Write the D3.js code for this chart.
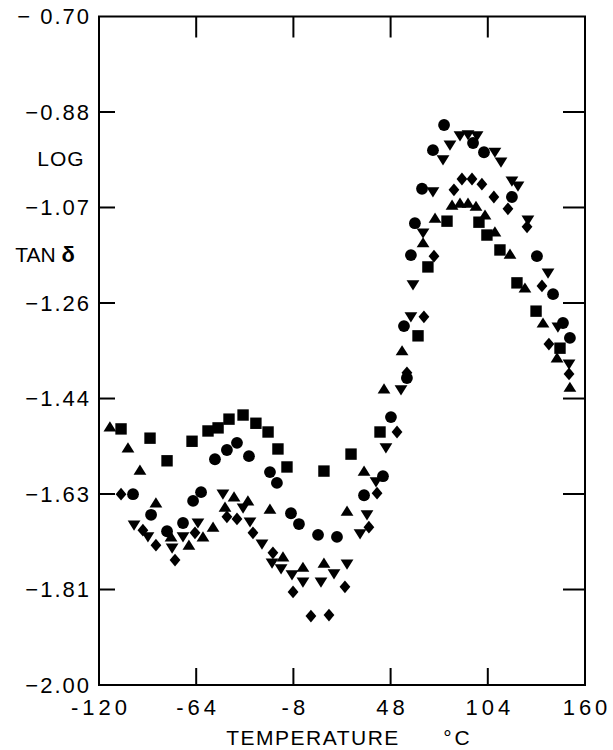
<!DOCTYPE html>
<html>
<head>
<meta charset="utf-8">
<script src="https://cdn.jsdelivr.net/npm/d3@7/dist/d3.min.js"></script>
<style>
  html, body { margin: 0; padding: 0; background: #fff; }
  svg { display: block; }
  text { font-family: "Liberation Sans", Arial, sans-serif; fill: #000; }
</style>
</head>
<body>
<svg id="chart" width="613" height="750"></svg>
<script>
// Axis ticks and labels
const xTickValues = [-120, -64, -8, 48, 104, 160];
const xTickLabels = ["-120", "-64", "-8", "48", "104", "160"];
const yTickValues = [-2.0, -1.8143, -1.6286, -1.4429, -1.2571, -1.0714, -0.8857, -0.70];
const yTickLabels = ["−2.00", "−1.81", "−1.63", "−1.44", "−1.26", "−1.07", "−0.88", "− 0.70"];

// Series: [temperature °C, log tan δ]
const squares = [
  [-107.3, -1.502], [-90.6, -1.520], [-80.8, -1.564], [-66.4, -1.526], [-57.2, -1.506],
  [-51.4, -1.500], [-45.1, -1.483], [-37.0, -1.475], [-29.6, -1.491], [-22.6, -1.508],
  [-16.9, -1.541], [-11.7, -1.576], [9.6, -1.584], [25.2, -1.551], [41.9, -1.508],
  [63.8, -1.321], [69.5, -1.187], [80.5, -1.098], [98.9, -1.100], [103.5, -1.125],
  [111.0, -1.154], [120.8, -1.218], [131.8, -1.273], [145.6, -1.345]
];
const circles = [
  [-100.4, -1.629], [-90.0, -1.669], [-80.8, -1.701], [-71.6, -1.685], [-65.8, -1.642],
  [-61.2, -1.625], [-53.2, -1.561], [-46.3, -1.543], [-40.5, -1.529], [-33.6, -1.555],
  [-21.5, -1.586], [-17.5, -1.607], [-9.4, -1.666], [-4.8, -1.687], [6.2, -1.708],
  [17.1, -1.712], [32.7, -1.631], [43.6, -1.594], [48.2, -1.479], [57.4, -1.403],
  [55.7, -1.302], [59.7, -1.164], [62.0, -1.102], [66.1, -1.035], [72.4, -0.960],
  [78.8, -0.911], [95.5, -0.946], [101.8, -0.964], [117.9, -1.051], [132.3, -1.166],
  [141.6, -1.240], [147.3, -1.296], [151.3, -1.325]
];
const trianglesUp = [
  [-113.7, -1.498], [-103.3, -1.539], [-96.4, -1.582], [-87.2, -1.646], [-78.5, -1.712],
  [-68.2, -1.728], [-60.1, -1.712], [-54.3, -1.693], [-47.4, -1.654], [-42.2, -1.634],
  [-34.2, -1.642], [-21.5, -1.658], [-14.0, -1.751], [-2.5, -1.771], [9.6, -1.763],
  [22.9, -1.662], [32.7, -1.584], [44.2, -1.424], [54.6, -1.350], [66.7, -1.140],
  [73.6, -1.092], [83.4, -1.067], [88.0, -1.063], [92.6, -1.063], [97.2, -1.069],
  [102.4, -1.086], [108.1, -1.119], [116.8, -1.162], [125.4, -1.228], [135.8, -1.296],
  [143.9, -1.364], [151.3, -1.421]
];
const trianglesDown = [
  [-99.8, -1.689], [-91.8, -1.712], [-77.9, -1.734], [-71.6, -1.712], [-63.0, -1.685],
  [-48.6, -1.629], [-37.0, -1.656], [-33.0, -1.683], [-26.1, -1.726], [-20.3, -1.763],
  [-15.1, -1.774], [-8.8, -1.786], [-2.5, -1.800], [7.9, -1.800], [15.4, -1.784],
  [22.9, -1.765], [30.4, -1.706], [34.4, -1.669], [39.6, -1.605], [45.3, -1.539],
  [54.0, -1.426], [59.7, -1.284], [60.9, -1.222], [66.7, -1.121], [72.4, -1.041],
  [78.2, -0.979], [82.2, -0.950], [88.0, -0.932], [92.6, -0.930], [97.8, -0.932],
  [108.1, -0.964], [111.6, -0.983], [117.9, -1.020], [121.4, -1.030], [127.1, -1.096],
  [138.7, -1.199], [144.4, -1.304], [150.8, -1.376]
];
const diamonds = [
  [-107.3, -1.629], [-94.7, -1.699], [-87.2, -1.728], [-76.2, -1.757], [-64.7, -1.704],
  [-46.3, -1.673], [-40.5, -1.677], [-31.3, -1.704], [-19.8, -1.743], [-8.2, -1.819],
  [2.1, -1.866], [12.5, -1.864], [21.7, -1.809], [35.5, -1.693], [40.2, -1.627],
  [51.7, -1.508], [57.4, -1.393], [67.2, -1.284], [73.0, -1.166], [84.5, -1.037],
  [89.1, -1.016], [94.9, -1.016], [100.6, -1.026], [107.5, -1.051], [115.6, -1.074],
  [126.6, -1.109], [135.2, -1.224], [139.2, -1.337], [150.8, -1.395]
];

const svg = d3.select("#chart");
const plotLeft = 99, plotRight = 585, plotTop = 16.5, plotBottom = 685;
const fontSize = 21;

const x = d3.scaleLinear().domain([-120, 160]).range([plotLeft, plotRight]);
const y = d3.scaleLinear().domain([-2.0, -0.70]).range([plotBottom, plotTop]);

// Marker shapes
const shape = {
  circle: {draw(c) { c.moveTo(5.9, 0); c.arc(0, 0, 5.9, 0, 2 * Math.PI); }},
  square: {draw(c) { c.rect(-5.7, -5.7, 11.4, 11.4); }},
  up: {draw(c) { c.moveTo(0, -5.6); c.lineTo(6.4, 4.6); c.lineTo(-6.4, 4.6); c.closePath(); }},
  down: {draw(c) { c.moveTo(0, 5.6); c.lineTo(6.4, -4.6); c.lineTo(-6.4, -4.6); c.closePath(); }},
  diamond: {draw(c) { c.moveTo(0, -6.4); c.lineTo(5.4, 0); c.lineTo(0, 6.4); c.lineTo(-5.4, 0); c.closePath(); }}
};

const series = [
  {data: squares, type: shape.square},
  {data: circles, type: shape.circle},
  {data: trianglesUp, type: shape.up},
  {data: trianglesDown, type: shape.down},
  {data: diamonds, type: shape.diamond}
];

// Frame with inward ticks on every side
const axisG = svg.append("g").attr("stroke", "#000").attr("stroke-width", 2).attr("fill", "none");
axisG.append("rect").attr("x", plotLeft).attr("y", plotTop)
  .attr("width", plotRight - plotLeft).attr("height", plotBottom - plotTop);

const innerX = xTickValues.slice(1, -1);
const innerY = yTickValues.slice(1, -1);
axisG.append("g").selectAll("line").data(innerX).join("line")
  .attr("x1", d => x(d)).attr("x2", d => x(d)).attr("y1", plotBottom).attr("y2", plotBottom - 17);
axisG.append("g").selectAll("line").data(innerX).join("line")
  .attr("x1", d => x(d)).attr("x2", d => x(d)).attr("y1", plotTop).attr("y2", plotTop + 21);
axisG.append("g").selectAll("line").data(innerY).join("line")
  .attr("x1", plotLeft).attr("x2", plotLeft + 16).attr("y1", d => y(d)).attr("y2", d => y(d));
axisG.append("g").selectAll("line").data(innerY).join("line")
  .attr("x1", plotRight).attr("x2", plotRight - 22).attr("y1", d => y(d)).attr("y2", d => y(d));

// Tick labels (trailing letter-spacing compensated with dx)
svg.append("g").selectAll("text").data(yTickValues).join("text")
  .attr("x", 89).attr("dx", 2).attr("y", d => y(d)).attr("dy", "0.36em")
  .attr("text-anchor", "end").attr("font-size", 22).attr("letter-spacing", 2)
  .text((d, i) => yTickLabels[i]);

svg.append("g").selectAll("text").data(xTickValues).join("text")
  .attr("x", d => x(d)).attr("dx", 2).attr("y", 715)
  .attr("text-anchor", "middle").attr("font-size", 22).attr("letter-spacing", 4)
  .text((d, i) => xTickLabels[i]);

// Axis titles
svg.append("text").attr("x", 61).attr("y", 166).attr("text-anchor", "middle")
  .attr("font-size", fontSize).attr("letter-spacing", 1).text("LOG");
const tan = svg.append("text").attr("x", 45).attr("y", 262).attr("text-anchor", "middle")
  .attr("font-size", fontSize);
tan.append("tspan").text("TAN ");
tan.append("tspan").attr("font-weight", "bold").attr("font-size", 22).text("δ");

svg.append("text").attr("x", 313).attr("y", 745).attr("text-anchor", "middle")
  .attr("font-size", fontSize).attr("letter-spacing", 1.5).text("TEMPERATURE");
svg.append("text").attr("x", 458).attr("y", 745).attr("text-anchor", "middle")
  .attr("font-size", fontSize).attr("letter-spacing", 3).text("°C");

// Data markers
const sym = d3.symbol();
series.forEach(s => {
  svg.append("g").selectAll("path").data(s.data).join("path")
    .attr("transform", d => `translate(${x(d[0])},${y(d[1])})`)
    .attr("d", sym.type(s.type)())
    .attr("fill", "#000");
});
</script>
</body>
</html>
